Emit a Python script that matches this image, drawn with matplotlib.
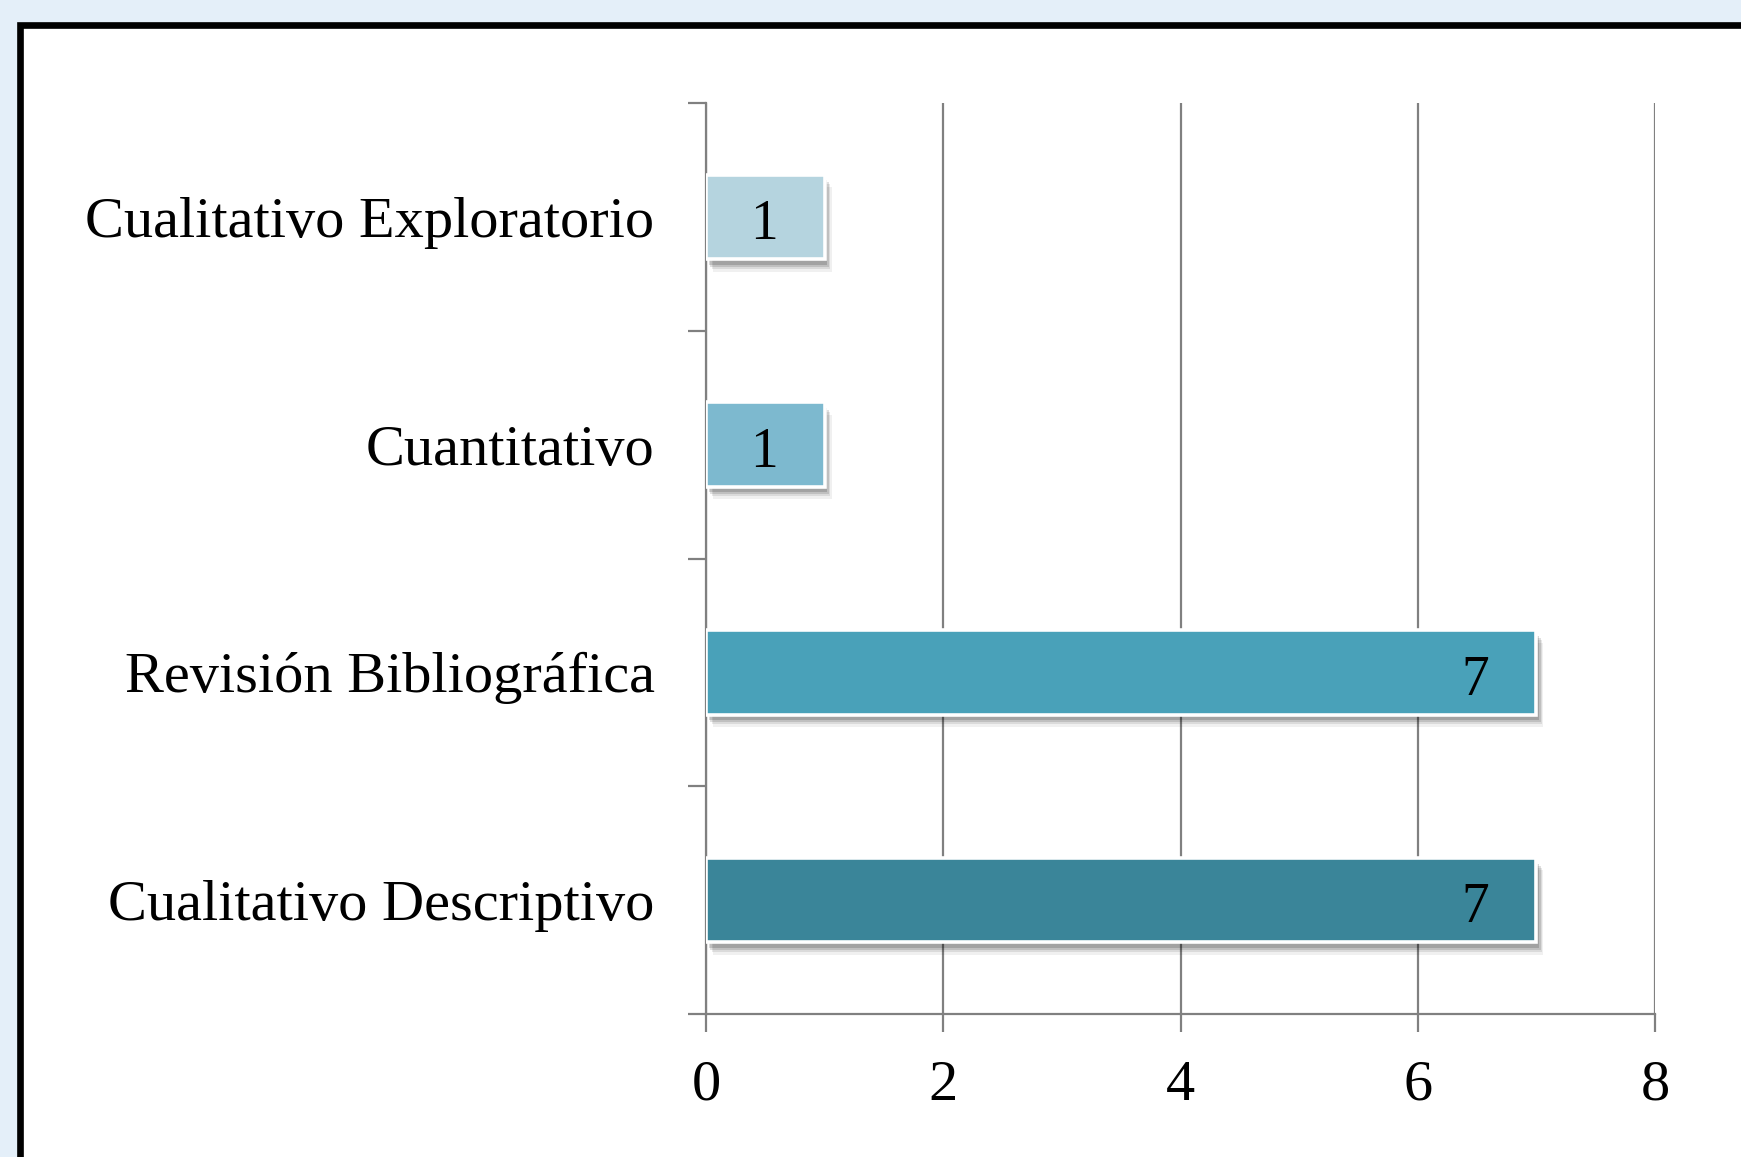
import matplotlib
matplotlib.use('Agg')
import matplotlib.pyplot as plt
import matplotlib.patheffects as pe
from matplotlib.patches import Rectangle

# data, bottom to top
categories = ['Cualitativo Descriptivo', 'Revisión Bibliográfica', 'Cuantitativo', 'Cualitativo Exploratorio']
values = [7, 7, 1, 1]
colors = ['#3a8599', '#49a1b9', '#7db9cf', '#b5d4df']
x_ticks = [0, 2, 4, 6, 8]

plt.rcParams['font.family'] = ['Liberation Serif', 'DejaVu Serif']

fig = plt.figure(figsize=(17.41, 11.57), dpi=100)
fig.patch.set_facecolor('#e4eff9')

# white chart area with thick black frame (cropped at right/bottom)
frame = Rectangle((20 / 1741, -0.05), 1.1, 1.05 - 25 / 1157, transform=fig.transFigure,
                  facecolor='white', edgecolor='black', linewidth=4.8, zorder=-10)
fig.patches.append(frame)

ax = fig.add_axes([706 / 1741, 1 - 1014 / 1157, (1655 - 706) / 1741, (1014 - 103) / 1157])
ax.set_facecolor('none')
ax.set_zorder(1)

y = list(range(len(categories)))
# soft drop shadow built from a few stacked offsets
shadow = [pe.SimplePatchShadow(offset=(5, -9), shadow_rgbFace='black', alpha=0.06),
          pe.SimplePatchShadow(offset=(4, -7), shadow_rgbFace='black', alpha=0.09),
          pe.SimplePatchShadow(offset=(3, -5.5), shadow_rgbFace='black', alpha=0.12),
          pe.SimplePatchShadow(offset=(2, -4), shadow_rgbFace='black', alpha=0.15),
          pe.Normal()]
bars = ax.barh(y, values, height=0.37, color=colors, edgecolor='white', linewidth=2.6, zorder=3)
for b in bars:
    b.set_path_effects(shadow)

for yi, v in zip(y, values):
    ax.annotate(str(v), xy=(v, yi), xytext=(-34, -6), textcoords='offset points',
                ha='right', va='center', fontsize=40, color='black', zorder=4)

ax.set_xlim(0, 8)
ax.set_ylim(-0.5, len(categories) - 0.5)
ax.set_xticks(x_ticks)
ax.set_xticklabels([str(t) for t in x_ticks], fontsize=42)

# ticks on category boundaries, labels at centres
ax.set_yticks([i - 0.5 for i in range(len(categories) + 1)])
ax.set_yticklabels([])
ax.set_yticks(y, minor=True)
ax.set_yticklabels(categories, minor=True, fontsize=42)
ax.tick_params(axis='y', which='minor', length=0, pad=37)
ax.tick_params(axis='y', which='major', length=13, width=1.6, color='#808080')
ax.tick_params(axis='x', length=13, width=1.6, color='#808080', pad=20)

ax.grid(axis='x', color='#808080', linewidth=1.6, zorder=1)
ax.set_axisbelow(True)
for s in ['top', 'right']:
    ax.spines[s].set_visible(False)
for s in ['left', 'bottom']:
    ax.spines[s].set_color('#808080')
    ax.spines[s].set_linewidth(1.6)

fig.savefig('out.png', dpi=100, facecolor=fig.get_facecolor())
